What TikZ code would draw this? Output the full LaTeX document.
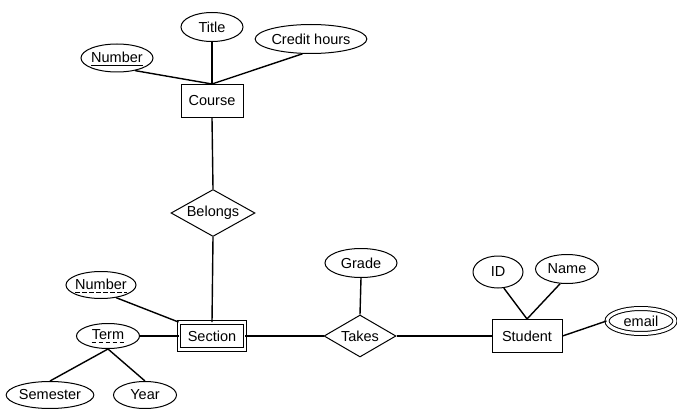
\documentclass[tikz,border=0pt]{standalone}
\usepackage{fontspec}
\setmainfont{Liberation Sans}
\usetikzlibrary{shapes.geometric}
\begin{document}
\begin{tikzpicture}[x=1pt,y=-1pt,
  every node/.style={font=\fontsize{14.5}{17}\selectfont, inner sep=0pt},
  attr/.style={draw, ellipse, line width=1pt},
  ent/.style={draw, rectangle, line width=1pt},
  rel/.style={draw, diamond, line width=1pt, aspect=1.8},
  conn/.style={line width=1.4pt},
  lbl/.style={inner sep=0pt},
  ul/.style={line width=0.9pt},
  dul/.style={line width=0.9pt, dash pattern=on 4.5pt off 2.5pt}]
\useasboundingbox (0,0) rectangle (677,409);
% Course part
\node[ent, minimum width=62pt, minimum height=33pt] (course) at (212,101) {Course};
\node[attr, minimum width=62pt, minimum height=29pt] (title) at (212,27) {Title};
\node[attr, minimum width=110pt, minimum height=29pt] (credit) at (311,39) {Credit hours};
\node[attr, minimum width=72pt, minimum height=28pt] (cnum) at (117,58) {};
\node[lbl] (cnumt) at (117,57) {Number};
\draw[ul] ([yshift=-3pt]cnumt.base west) -- ([yshift=-3pt]cnumt.base east);
\draw[conn] (title.south) -- (course.north);
\draw[conn] (cnum.-35) -- (course.north);
\draw[conn] (credit.-120) -- (course.north);
% Belongs
\node[rel, minimum width=84pt, minimum height=47pt] (belongs) at (213,213) {Belongs};
\draw[conn] (course.south) -- (belongs.north);
% Section
\node[ent, double, double distance=2.5pt, line width=0.9pt, minimum width=66pt, minimum height=27pt] (section) at (212,336) {Section};
\draw[conn] (belongs.south) -- (section.north);
\node[attr, minimum width=70pt, minimum height=27pt] (snum) at (101,285) {};
\node[lbl] (snumt) at (101,284) {Number};
\draw[dul] ([yshift=-3pt]snumt.base west) -- ([yshift=-3pt]snumt.base east);
\draw[conn] (snum.-40) -- (section.north west);
\node[attr, minimum width=63pt, minimum height=25pt] (term) at (108,336) {};
\node[lbl] (termt) at (108,335) {Term};
\draw[dul] ([yshift=-3pt]termt.base west) -- ([yshift=-3pt]termt.base east);
\draw[conn] (term.east) -- (section.west);
\node[attr, minimum width=86pt, minimum height=27pt] (sem) at (50,395) {Semester};
\node[attr, minimum width=63pt, minimum height=27pt] (year) at (145,395) {Year};
\coordinate (tb) at (108,349);
\draw[conn] (tb) -- (sem.north);
\draw[conn] (tb) -- (year.north);
% Takes
\node[rel, aspect=1.7, minimum width=72pt, minimum height=42pt] (takes) at (360,336) {Takes};
\draw[conn] (section.east) -- (takes.west);
\node[attr, minimum width=72pt, minimum height=29pt] (grade) at (361,263) {Grade};
\draw[conn] (grade.south) -- (takes.north);
% Student
\node[ent, minimum width=70pt, minimum height=33pt] (student) at (527,336) {Student};
\draw[conn] (takes.east) -- (student.west);
\node[attr, minimum width=50pt, minimum height=32pt] (id) at (498,272) {ID};
\node[attr, minimum width=63pt, minimum height=29pt] (name) at (567,269) {Name};
\draw[conn] (id.-70) -- (student.north);
\draw[conn] (name.-115) -- (student.north);
\node[attr, double, double distance=3pt, line width=1pt, minimum width=68pt, minimum height=25pt] (email) at (641,321) {email};
\draw[conn] (student.east) -- (email.west);
\end{tikzpicture}
\end{document}
